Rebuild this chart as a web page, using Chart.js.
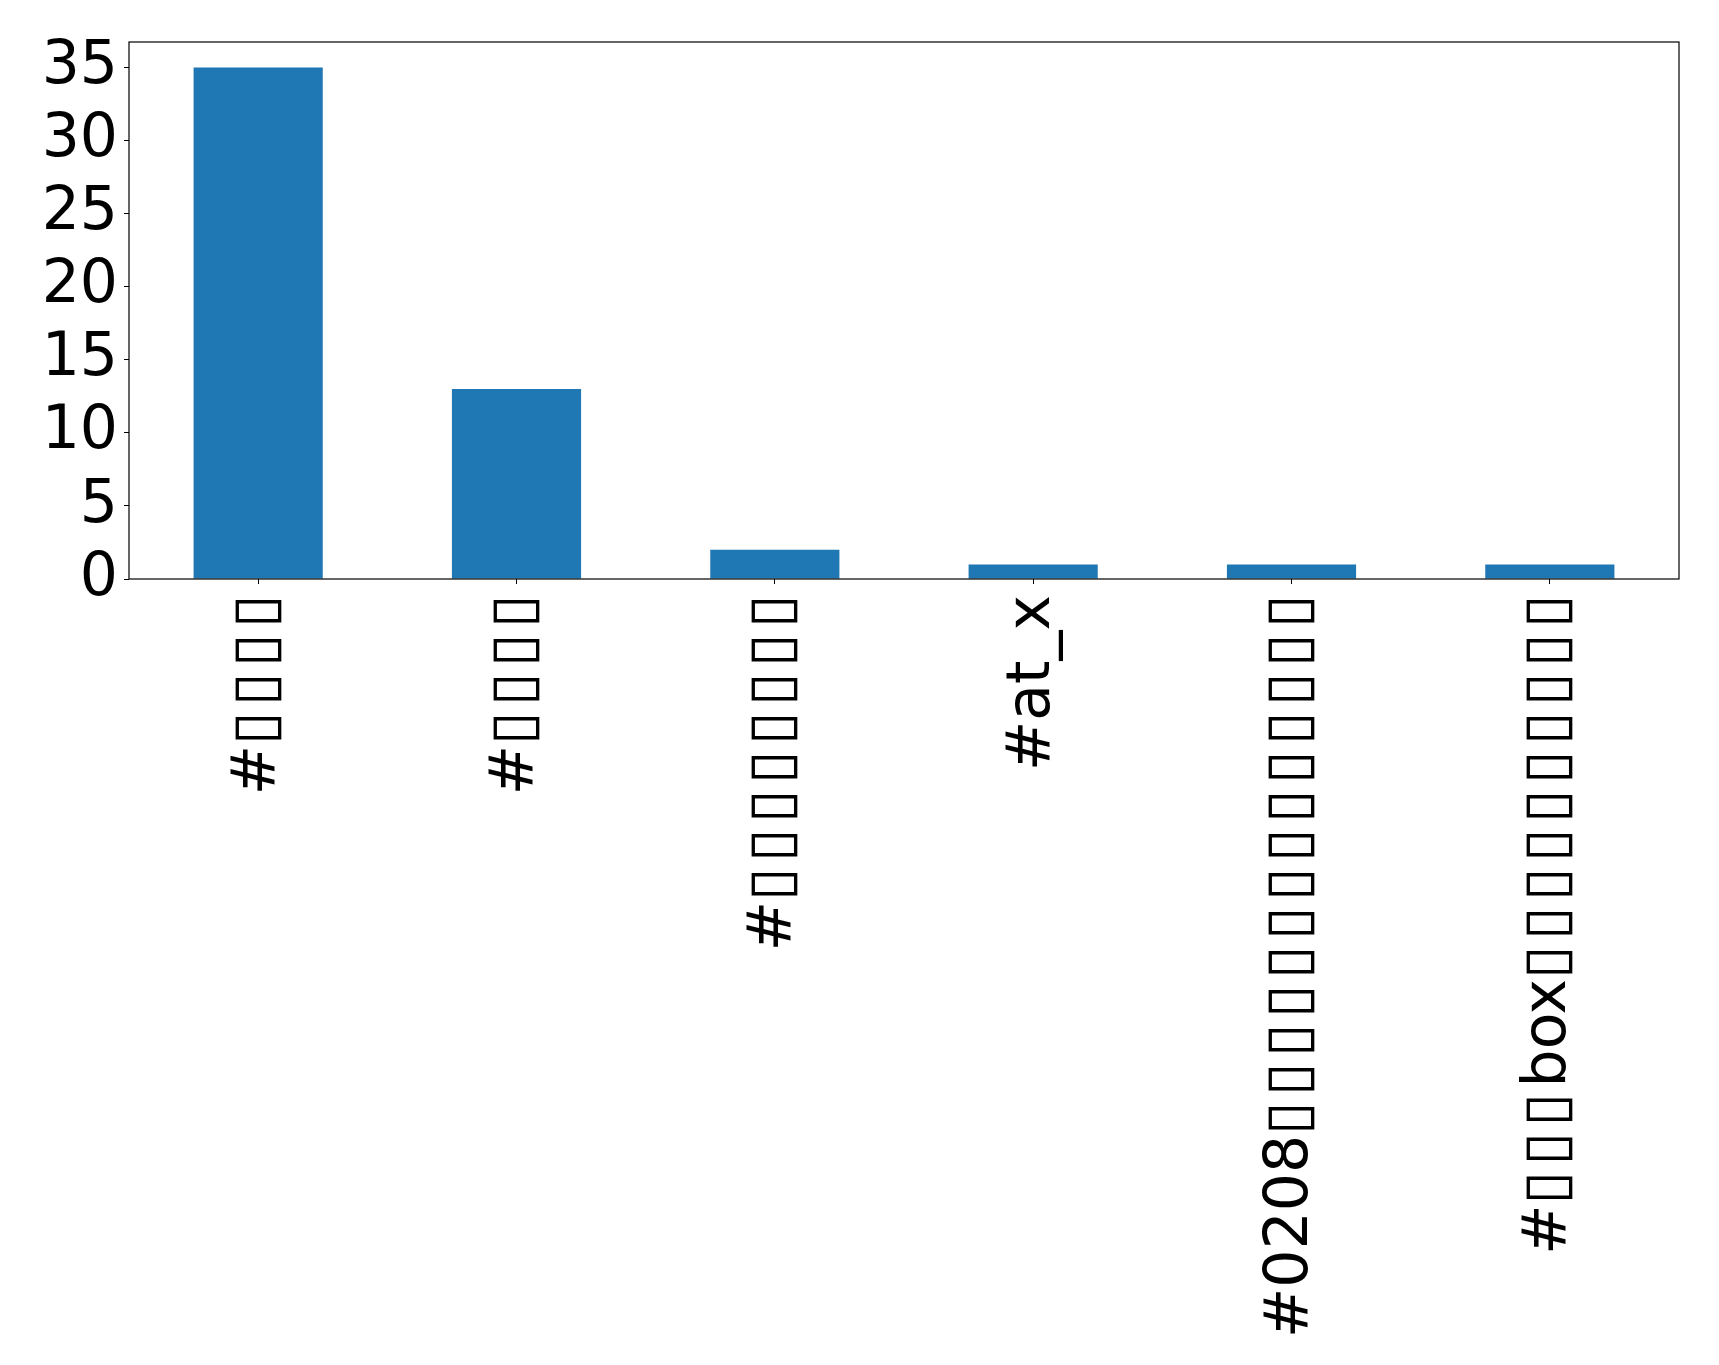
<!DOCTYPE html>
<html>
<head>
<meta charset="utf-8">
<script src="https://cdn.jsdelivr.net/npm/chart.js@4/dist/chart.umd.min.js"></script>
<style>
  html, body { margin: 0; padding: 0; background: #fff; }
  canvas { display: block; }
</style>
</head>
<body>
<canvas id="chart" width="1719" height="1365"></canvas>
<script>
// Labels rendered as missing-glyph boxes in the source picture
const B = '▯\u200A';
const categories = [
  '#' + B.repeat(4),
  '#' + B.repeat(4),
  '#' + B.repeat(8),
  '#at_x',
  '#0208' + B.repeat(14),
  '#' + B.repeat(3) + 'box' + B.repeat(10)
].map(s => s.trimEnd());
const counts = [35, 13, 2, 1, 1, 1];
const yTicks = [0, 5, 10, 15, 20, 25, 30, 35];

const FONT = "'DejaVu Sans', sans-serif";
Chart.defaults.font.family = FONT;
Chart.defaults.color = '#000';

// Full frame around the plot, like matplotlib spines
const frame = {
  id: 'frame',
  afterDraw(chart) {
    const { ctx, chartArea: a } = chart;
    ctx.save();
    ctx.strokeStyle = '#000';
    ctx.lineWidth = 1.2;
    ctx.strokeRect(a.left, a.top, a.right - a.left, a.bottom - a.top);
    ctx.restore();
  }
};

new Chart(document.getElementById('chart'), {
  type: 'bar',
  data: {
    labels: categories,
    datasets: [{
      data: counts,
      backgroundColor: '#1f77b4',
      borderWidth: 0,
      barPercentage: 0.5,
      categoryPercentage: 1
    }]
  },
  options: {
    responsive: false,
    devicePixelRatio: 1,
    animation: false,
    layout: { padding: { top: 41, right: 40, left: 0, bottom: 0 } },
    plugins: { legend: { display: false }, tooltip: { enabled: false } },
    scales: {
      x: {
        offset: true,
        grid: { offset: false, drawOnChartArea: false, drawTicks: true, tickLength: 5, color: '#000' },
        border: { display: false },
        ticks: {
          autoSkip: false,
          minRotation: 90,
          maxRotation: 90,
          padding: 11,
          font: { size: 60 },
          color: '#000'
        },
        afterFit: scale => { scale.height = 786; }
      },
      y: {
        min: 0,
        max: 36.75,
        grid: { drawOnChartArea: false, drawTicks: true, tickLength: 5, color: '#000' },
        border: { display: false },
        ticks: {
          stepSize: 5,
          includeBounds: false,
          padding: 6,
          font: { size: 60 },
          color: '#000'
        },
        afterBuildTicks: scale => {
          scale.ticks = yTicks.map(v => ({ value: v }));
        },
        afterFit: scale => { scale.width = 129; }
      }
    }
  },
  plugins: [frame]
});
</script>
</body>
</html>
